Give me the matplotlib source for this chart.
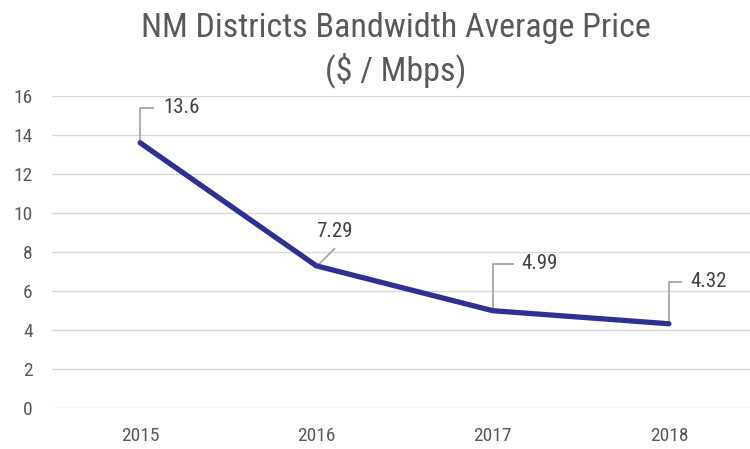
import matplotlib.pyplot as plt
import matplotlib.transforms as mtransforms
from matplotlib import font_manager

# pick a narrow face if one is around, else Roboto
names = set(f.name for f in font_manager.fontManager.ttflist)
fam = 'Roboto'
for cand in ['Roboto Condensed', 'Liberation Sans Narrow', 'Open Sans Condensed',
             'DejaVu Sans Condensed']:
    if cand in names:
        fam = cand
        break
plt.rcParams['font.family'] = [fam, 'DejaVu Sans']

years = ['2015', '2016', '2017', '2018']
price = [13.6, 7.29, 4.99, 4.32]
labels = ['13.6', '7.29', '4.99', '4.32']

fig = plt.figure(figsize=(7.5, 4.49), dpi=100)
ax = fig.add_axes([52 / 750, 1 - 408 / 449, 698 / 750, 312 / 449])

x = list(range(len(years)))
ax.plot(x, price, color='#2E3192', lw=3.8, solid_capstyle='round', zorder=3)

ax.set_xlim(-0.5, 3.46)
ax.set_ylim(0, 16)
ax.set_yticks(range(0, 17, 2))
ax.set_xticks(x)
ax.set_xticklabels(years)
ax.grid(axis='y', color='#d9d9d9', lw=1)
ax.set_axisbelow(True)
for s in ax.spines.values():
    s.set_visible(False)
ax.tick_params(length=0, labelsize=14, colors='#595959')
ax.tick_params(axis='x', pad=14)
ax.tick_params(axis='y', pad=14)

# leader lines (pixel offsets from the point) and label positions
leaders = [
    [(0, 0), (0, 35), (13, 35)],
    [(1, 0), (18, 17)],
    [(0, 0), (0, 47), (20, 47)],
    [(0, 0), (0, 42), (12, 42)],
]
text_pos = [(23, 35), (0, 34), (29, 47), (21, 42)]

for xi, yi, lab, pts, (tx, ty) in zip(x, price, labels, leaders, text_pos):
    tr = mtransforms.Affine2D() + mtransforms.ScaledTranslation(xi, yi, ax.transData)
    ax.plot([p[0] for p in pts], [p[1] for p in pts], color='#a6a6a6', lw=1.3,
            transform=tr, clip_on=False, zorder=2)
    ax.text(tx, ty, lab, transform=tr, fontsize=15, color='#404040',
            ha='left', va='center')

fig.text(0.528, 0.937, 'NM Districts Bandwidth Average Price', ha='center',
         va='center', fontsize=24.5, color='#595959')
fig.text(0.528, 0.843, '($ / Mbps)', ha='center', va='center', fontsize=24.5,
         color='#595959')

fig.savefig('out.png', dpi=100)
